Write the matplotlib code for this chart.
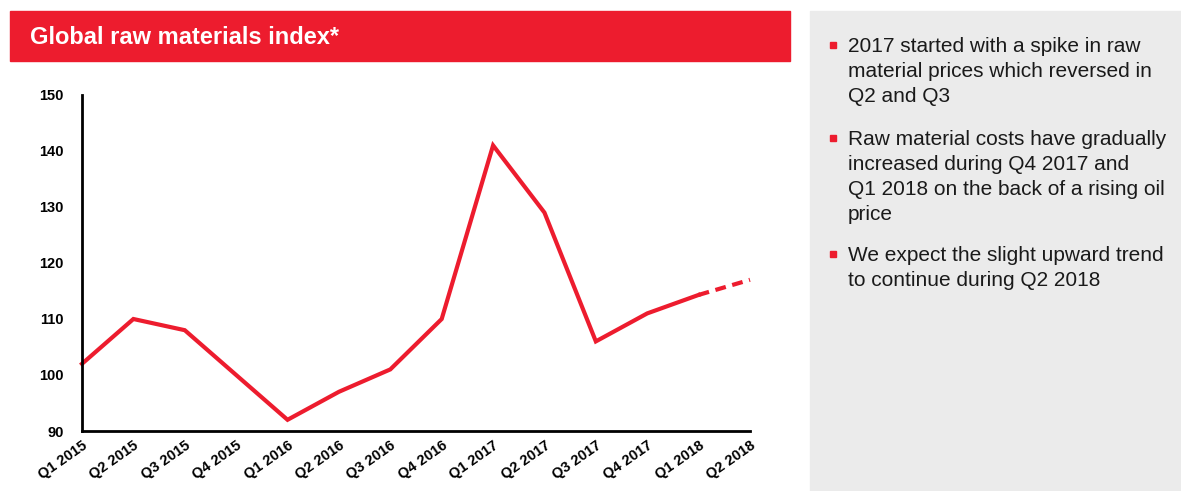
"""Global raw materials index chart with commentary panel."""

import matplotlib
matplotlib.use("Agg")
import matplotlib.pyplot as plt
from matplotlib.patches import Rectangle

plt.rcParams["font.family"] = ["Liberation Sans", "DejaVu Sans"]

QUARTERS = ["Q1 2015", "Q2 2015", "Q3 2015", "Q4 2015",
            "Q1 2016", "Q2 2016", "Q3 2016", "Q4 2016",
            "Q1 2017", "Q2 2017", "Q3 2017", "Q4 2017",
            "Q1 2018", "Q2 2018"]
INDEX = [102, 110, 108, 100, 92, 97, 101, 110, 141, 129, 106, 111, 114.3]
FORECAST = [114.3, 117]          # Q1 2018 -> Q2 2018 (dashed)
Y_TICKS = [90, 100, 110, 120, 130, 140, 150]

TITLE = "Global raw materials index*"
BULLETS = [
    "2017 started with a spike in raw\nmaterial prices which reversed in\nQ2 and Q3",
    "Raw material costs have gradually\nincreased during Q4 2017 and\nQ1 2018 on the back of a rising oil\nprice",
    "We expect the slight upward trend\nto continue during Q2 2018",
]

RED = "#ED1C2E"
GREY = "#EBEBEB"
W, H = 1181, 491

fig = plt.figure(figsize=(W / 100, H / 100), dpi=100)

# ─── header bar and side panel ───────────────────────────────────────────────
fig.patches.append(Rectangle((10 / W, 1 - 61 / H), 780 / W, 50 / H,
                             transform=fig.transFigure, color=RED, zorder=0))
fig.text(30 / W, 1 - 37 / H, TITLE, color="white", fontsize=17,
         fontweight="bold", va="center", ha="left")
fig.patches.append(Rectangle((810 / W, 0), 371 / W, 1 - 11 / H,
                             transform=fig.transFigure, color=GREY, zorder=0))

bullet_tops = [37, 130, 246]
for top, txt in zip(bullet_tops, BULLETS):
    fig.patches.append(Rectangle((830 / W, 1 - (top + 11) / H), 6 / W, 6 / H,
                                 transform=fig.transFigure, color=RED, zorder=1))
    fig.text(848 / W, 1 - top / H, txt, fontsize=15, color="#1a1a1a",
             va="top", ha="left", linespacing=1.39)

# ─── line chart ──────────────────────────────────────────────────────────────
ax = fig.add_axes([82 / W, 1 - 431 / H, 668 / W, 336 / H])
x = list(range(len(QUARTERS)))
ax.plot(x[:len(INDEX)], INDEX, color=RED, linewidth=3, solid_joinstyle="miter",
        clip_on=False)
ax.plot(x[len(INDEX) - 1:], FORECAST, color=RED, linewidth=3,
        dashes=(2.6, 1.6), clip_on=False)

ax.set_xlim(0, len(QUARTERS) - 1)
ax.set_ylim(90, 150)
ax.set_yticks(Y_TICKS)
ax.set_yticklabels([str(v) for v in Y_TICKS], fontsize=10.5, fontweight="bold")
ax.set_xticks(x)
ax.set_xticklabels(QUARTERS, fontsize=10.5, fontweight="bold", rotation=35,
                   ha="right", rotation_mode="anchor")
ax.tick_params(axis="y", length=0, pad=13)
ax.tick_params(axis="x", length=0, pad=5)
for side in ["top", "right"]:
    ax.spines[side].set_visible(False)
for side in ["left", "bottom"]:
    ax.spines[side].set_linewidth(2)

fig.savefig("out.png", dpi=100, facecolor="white")
